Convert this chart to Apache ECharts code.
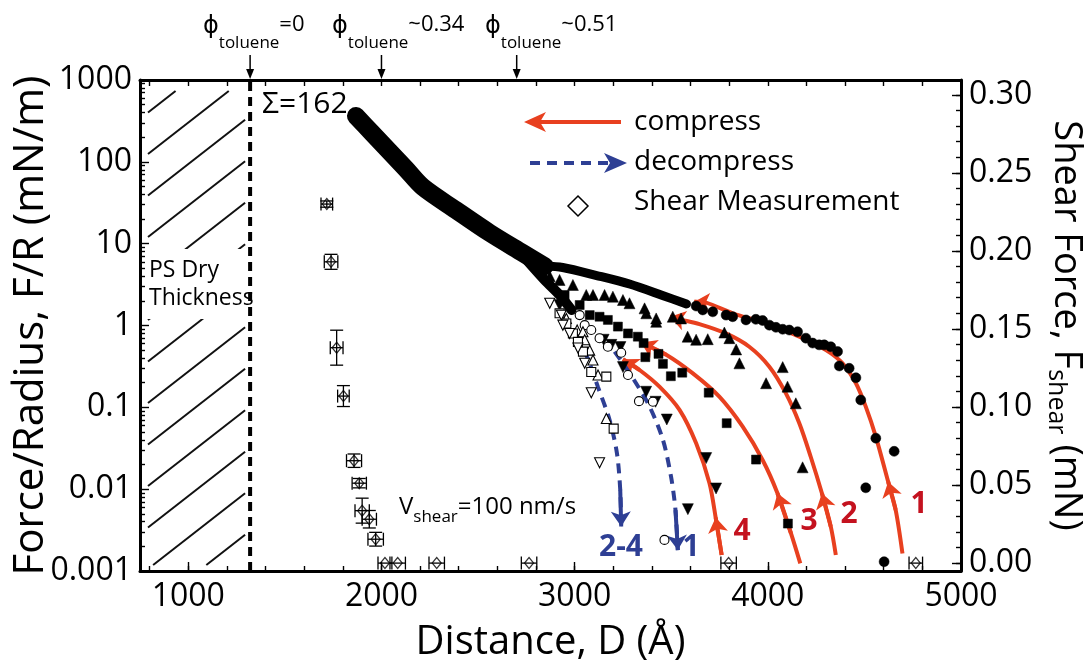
<!DOCTYPE html>
<html>
<head>
<meta charset="utf-8">
<title>Force and shear force vs distance</title>
<script src="https://cdn.jsdelivr.net/npm/echarts@6/dist/echarts.min.js"></script>
<style>
html,body{margin:0;padding:0;background:#fff;}
#chart{width:1089px;height:664px;}
</style>
</head>
<body>
<div id="chart"></div>
<script>
// ---------------- axes: ranges, ticks, tick labels ----------------
const xMin = 750, xMax = 5000;
const xTickValues = [800,1000,1200,1400,1600,1800,2000,2200,2400,2600,2800,3000,3200,3400,3600,3800,4000,4200,4400,4600,4800,5000];
const xLabelValues = [1000,2000,3000,4000,5000];
const xTickLabels = ['1000','2000','3000','4000','5000'];
const yMin = 0.001, yMax = 1000;
const yTickExponents = [-3,-2,-1,0,1,2,3];
const yTickLabels = ['0.001','0.01','0.1','1','10','100','1000'];
const shearMin = -0.00506, shearMax = 0.30948;
const shearTickValues = [0,0.01,0.02,0.03,0.04,0.05,0.06,0.07,0.08,0.09,0.10,0.11,0.12,0.13,0.14,0.15,0.16,0.17,0.18,0.19,0.20,0.21,0.22,0.23,0.24,0.25,0.26,0.27,0.28,0.29,0.30];
const shearLabelValues = [0,0.05,0.10,0.15,0.20,0.25,0.30];
const shearTickLabels = ['0.00','0.05','0.10','0.15','0.20','0.25','0.30'];

// ---------------- annotations anchored to data ----------------
const dryThickness = 1320;
const phiMarks = [1320, 2000, 2700];
const phiValues = ['=0', '~0.34', '~0.51'];

// ---------------- force data (D in Å, F/R in mN/m) ----------------
// dense overlapping region of all compression runs
const blobBand = [[1868,363],[1951,225],[2044,132],[2127,81.7],[2214,49.2],[2385,25.8],[2561,13.5],[2731,7.7],[2845,5.3]];
// lower edge of the dense fan where runs 2-4 and the decompressions overlap
const fanBand = [[2731,7.2],[2845,3.6],[2922,2.36],[2984,1.55]];
// dense part of compression run 1 (filled circles)
const run1Band = [[2845,5.33],[2938,5.11],[3114,4.08],[3284,3.21],[3455,2.33],[3579,1.83]];
const run1Circles = [[3629,1.73],[3663,1.55],[3715,1.47],[3784,1.34],[3818,1.28],[3887,1.17],[3938,1.19],[3973,1.15],[4008,1.01],[4042,0.95],[4077,0.90],[4111,0.88],[4154,0.84],[4197,0.70],[4232,0.61],[4266,0.58],[4292,0.58],[4326,0.55],[4361,0.48],[4370,0.32],[4421,0.30],[4456,0.23],[4481,0.123],[4559,0.042],[4654,0.029],[4507,0.0104],[4602,0.0013]];
const run2Triangles = [[2871,4.0],[2922,3.6],[2991,3.13],[3060,2.36],[3095,2.36],[3155,2.36],[3198,2.25],[3250,2.05],[3284,1.87],[3362,1.62],[3371,1.41],[3422,1.22],[3422,1.11],[3508,1.28],[3551,1.22],[3585,0.73],[3629,0.67],[3689,0.68],[3775,0.82],[3801,0.70],[3836,0.51],[3853,0.345],[3991,0.197],[4077,0.31],[4102,0.179],[4145,0.112],[4180,0.0185]];
const run3Squares = [[2948,2.36],[3026,1.78],[3078,1.34],[3129,1.28],[3172,1.17],[3224,0.97],[3276,0.80],[3327,0.73],[3357,0.61],[3366,0.41],[3434,0.45],[3457,0.34],[3498,0.24],[3557,0.265],[3694,0.151],[3787,0.064],[3939,0.023],[4104,0.0038]];
const run4TrianglesDown = [[2922,1.78],[3150,0.67],[3190,0.58],[3237,0.545],[3250,0.31],[3370,0.155],[3419,0.117],[3477,0.071],[3586,0.0057],[3681,0.024],[3732,0.0102]];
const dec1Circles = [[3026,1.34],[3052,1.01],[3086,0.88],[3129,0.70],[3172,0.55],[3241,0.465],[3276,0.248],[3333,0.119],[3405,0.117],[3465,0.0024]];
const dec2Triangles = [[2957,1.22],[3013,0.88],[3043,0.84],[3052,0.67],[3078,0.50],[3095,0.379],[3121,0.248],[3164,0.073]];
const dec3Squares = [[2922,1.41],[2957,1.06],[2991,0.80],[3017,0.63],[3043,0.48],[3086,0.27],[3164,0.237],[3202,0.055]];
const dec4TrianglesDown = [[2871,1.87],[2931,1.34],[2939,1.01],[2974,0.80],[3017,0.53],[3052,0.345],[3086,0.151],[3129,0.021]];

// guide curves (bottom -> top for compress, top -> bottom for decompress)
const compress1 = [[4697,0.00164],[4662,0.00556],[4623,0.0123],[4559,0.0438],[4507,0.102],[4456,0.197],[4387,0.345],[4301,0.50],[4163,0.73],[3990,1.06],[3818,1.41],[3680,1.90],[3620,1.95]];
const compress2 = [[4352,0.00157],[4326,0.00348],[4280,0.0089],[4222,0.0249],[4163,0.0638],[4093,0.149],[4008,0.314],[3904,0.55],[3783,0.80],[3646,1.04],[3543,1.19],[3494,1.28]];
const compress3 = [[4168,0.00124],[4120,0.00288],[4050,0.0089],[3973,0.0227],[3870,0.058],[3749,0.135],[3612,0.26],[3474,0.44],[3344,0.62]];
const compress4 = [[3761,0.00157],[3730,0.0045],[3698,0.0118],[3629,0.0363],[3543,0.093],[3439,0.179],[3336,0.286],[3250,0.386]];
const compressMidArrow = [2, 2, 2, 1];
const decompress1 = [[3207,0.48],[3302,0.226],[3388,0.102],[3457,0.040],[3499,0.0142],[3522,0.00556],[3534,0.0018]];
const decompress24 = [[3008,0.77],[3064,0.416],[3120,0.179],[3181,0.070],[3219,0.0274],[3236,0.0098],[3241,0.0035]];

// ---------------- shear data: [D (Å), F_shear (mN), D error, F error] ----------------
const shearData = [[1717,0.230,30,0.002],[1739,0.193,35,0.0048],[1768,0.138,33,0.0112],[1803,0.107,30,0.0067],[1858,0.0656,39,0.0043],[1885,0.0512,37,0.003],[1900,0.0336,37,0.008],[1937,0.0281,37,0.0056],[1970,0.0153,40,0.0044],[2018,0,36,0],[2084,0,40,0],[2286,0,40,0],[2764,0,40,0],[3797,0,40,0],[4766,0,35,0]];

// ---------------- styling ----------------
const FONT = "'Open Sans', 'DejaVu Sans', sans-serif";
const RED = '#e8401f', RED_TXT = '#c4121f', BLUE = '#2e3f94';
const INK = '#111';

const yMinorExponents = [];
for (let e = -3; e < 3; e++) for (let m = 2; m <= 9; m++) yMinorExponents.push(e + Math.log10(m));

const chart = echarts.init(document.getElementById('chart'), null, {renderer: 'canvas'});

function hatchRender(params, api) {
  const p0 = api.coord([api.value(0), api.value(3)]);
  const p1 = api.coord([api.value(2), api.value(1)]);
  const left = p0[0] + 8, right = p1[0] - 5, top = p0[1] + 11, bottom = p1[1] - 6;
  const slope = 0.78, gap = 41.5, y0 = p0[1] + 32.5;
  const children = [];
  for (let k = -2; k < 16; k++) {
    const yL = y0 + k * gap;
    const xa = Math.max(left, left + (yL - bottom) / slope);
    const xb = Math.min(right, left + (yL - top) / slope);
    if (xb - xa > 4) {
      children.push({type: 'line', shape: {x1: xa, y1: yL - slope * (xa - left), x2: xb, y2: yL - slope * (xb - left)},
        style: {stroke: INK, lineWidth: 2}});
    }
  }
  return {type: 'group', children};
}

function errRender(params, api) {
  const x = api.value(0), y = api.value(1), ex = api.value(2), ey = api.value(3);
  const c = api.coord([x, y]);
  const l = api.coord([x - ex, y])[0], r = api.coord([x + ex, y])[0];
  const t = api.coord([x, y + ey])[1], b = api.coord([x, y - ey])[1];
  const cap = 6.5;
  const st = {stroke: '#000', lineWidth: 1.3};
  const ch = [
    {type: 'line', shape: {x1: l, y1: c[1], x2: r, y2: c[1]}, style: st},
    {type: 'line', shape: {x1: l, y1: c[1] - cap, x2: l, y2: c[1] + cap}, style: st},
    {type: 'line', shape: {x1: r, y1: c[1] - cap, x2: r, y2: c[1] + cap}, style: st}
  ];
  if (ey > 0) {
    ch.push({type: 'line', shape: {x1: c[0], y1: t, x2: c[0], y2: b}, style: st});
    ch.push({type: 'line', shape: {x1: c[0] - cap, y1: t, x2: c[0] + cap, y2: t}, style: st});
    ch.push({type: 'line', shape: {x1: c[0] - cap, y1: b, x2: c[0] + cap, y2: b}, style: st});
  }
  return {type: 'group', children: ch};
}

function guide(data, color, dashed, z) {
  return {type: 'line', xAxisIndex: 0, yAxisIndex: 0, data, smooth: 0.3, symbol: 'none', z,
    lineStyle: {color, width: 4, type: dashed ? [10, 7] : 'solid', cap: 'butt'}, silent: true};
}
function arrows(segments, color, z) {
  return {type: 'lines', coordinateSystem: 'cartesian2d', xAxisIndex: 0, yAxisIndex: 0, z,
    symbol: ['none', 'arrow'], symbolSize: 15, lineStyle: {color, width: 4, opacity: 1, curveness: 0},
    data: segments.map(s => ({coords: s}))};
}
function markers(data, symbol, filled, size, rotate) {
  return {type: 'scatter', xAxisIndex: 0, yAxisIndex: 0, data, symbol, symbolSize: size, symbolRotate: rotate || 0, z: 5,
    itemStyle: filled ? {color: '#000', borderColor: '#000', borderWidth: 0.5, opacity: 1}
                      : {color: '#fff', borderColor: '#000', borderWidth: 1.1, opacity: 1}};
}
function band(data, width) {
  return {type: 'line', xAxisIndex: 0, yAxisIndex: 0, z: 3, symbol: 'none', smooth: 0.3, silent: true,
    data, lineStyle: {color: '#000', width, cap: 'round', join: 'round'}};
}

const compressAll = [compress1, compress2, compress3, compress4];
const redArrowSegs = [];
compressAll.forEach((c, i) => {
  redArrowSegs.push([c[c.length - 2], c[c.length - 1]]);
  const m = compressMidArrow[i];
  redArrowSegs.push([c[m - 1], c[m]]);
});
const blueArrowSegs = [decompress1, decompress24].map(c => [c[c.length - 2], c[c.length - 1]]);

const tickStyle = {color: '#000', width: 1.4};
const option = {
  animation: false,
  backgroundColor: '#fff',
  grid: {left: 140, right: 128, top: 80, bottom: 93, containLabel: false, outerBoundsMode: 'none'},
  xAxis: [
    {type: 'value', position: 'bottom', min: xMin, max: xMax,
     axisLine: {show: true, onZero: false, lineStyle: {color: '#000', width: 3}},
     axisTick: {show: true, inside: true, length: 5, customValues: xTickValues, lineStyle: tickStyle},
     axisLabel: {show: true, customValues: xLabelValues, margin: 10, color: '#000', fontFamily: FONT, fontSize: 32,
       formatter: v => { const i = xLabelValues.indexOf(Math.round(v)); return i >= 0 ? xTickLabels[i] : ''; }},
     splitLine: {show: false},
     name: 'Distance, D (Å)', nameLocation: 'middle', nameGap: 52,
     nameTextStyle: {color: '#000', fontFamily: FONT, fontSize: 40}},
    {type: 'value', position: 'top', min: xMin, max: xMax,
     axisLine: {show: true, onZero: false, lineStyle: {color: '#000', width: 3}},
     axisTick: {show: true, inside: true, length: 6, customValues: xTickValues, lineStyle: tickStyle},
     axisLabel: {show: false}, splitLine: {show: false}},
    {type: 'value', position: 'bottom', min: xMin, max: xMax,
     axisLine: {show: false, onZero: false},
     axisTick: {show: true, inside: true, length: 9, customValues: xLabelValues, lineStyle: tickStyle},
     axisLabel: {show: false}, splitLine: {show: false}}
  ],
  yAxis: [
    {type: 'log', logBase: 10, position: 'left', min: yMin, max: yMax,
     axisLine: {show: true, onZero: false, lineStyle: {color: '#000', width: 3}},
     axisTick: {show: false}, axisLabel: {show: false}, splitLine: {show: false}, minorTick: {show: false},
     name: 'Force/Radius, F/R (mN/m)', nameLocation: 'middle', nameGap: 88,
     nameTextStyle: {color: '#000', fontFamily: FONT, fontSize: 42}},
    {type: 'value', position: 'right', min: shearMin, max: shearMax,
     axisLine: {show: true, onZero: false, lineStyle: {color: '#000', width: 3}},
     axisTick: {show: true, inside: true, length: 5, customValues: shearTickValues, lineStyle: tickStyle},
     axisLabel: {show: true, customValues: shearLabelValues, margin: 8, color: '#000', fontFamily: FONT, fontSize: 32,
       formatter: v => { const i = shearLabelValues.findIndex(s => Math.abs(s - v) < 1e-9); return i >= 0 ? shearTickLabels[i] : ''; }},
     splitLine: {show: false},
     name: '{m|Shear Force, F}{s|shear}{m| (mN)}', nameLocation: 'middle', nameGap: 80, nameRotate: -90,
     nameTextStyle: {color: '#000', fontFamily: FONT, fontSize: 38,
       rich: {m: {fontFamily: FONT, fontSize: 38, lineHeight: 44, verticalAlign: 'top', color: '#000'},
              s: {fontFamily: FONT, fontSize: 25, lineHeight: 25, padding: [17, 0, 0, 0], verticalAlign: 'top', color: '#000'}}}},
    {type: 'value', position: 'left', min: -3, max: 3,
     axisLine: {show: false, onZero: false},
     axisTick: {show: true, inside: true, length: 9, customValues: yTickExponents, lineStyle: tickStyle},
     axisLabel: {show: true, customValues: yTickExponents, margin: 8, color: '#000', fontFamily: FONT, fontSize: 32,
       formatter: v => { const i = yTickExponents.indexOf(Math.round(v)); return i >= 0 ? yTickLabels[i] : ''; }},
     splitLine: {show: false}},
    {type: 'value', position: 'left', min: -3, max: 3,
     axisLine: {show: false, onZero: false},
     axisTick: {show: true, inside: true, length: 5, customValues: yMinorExponents, lineStyle: tickStyle},
     axisLabel: {show: false}, splitLine: {show: false}},
    {type: 'value', position: 'right', min: shearMin, max: shearMax,
     axisLine: {show: false, onZero: false},
     axisTick: {show: true, inside: true, length: 9, customValues: shearLabelValues, lineStyle: tickStyle},
     axisLabel: {show: false}, splitLine: {show: false}}
  ],
  series: [
    {type: 'custom', name: 'PS dry hatch', xAxisIndex: 0, yAxisIndex: 0, z: 1, silent: true,
     data: [[xMin, yMin, dryThickness, yMax]], encode: {x: [0, 2], y: [1, 3]}, renderItem: hatchRender, clip: false},
    {type: 'line', name: 'dry thickness', xAxisIndex: 0, yAxisIndex: 0, z: 3, symbol: 'none', silent: true,
     data: [[dryThickness, yMin], [dryThickness, yMax]], lineStyle: {color: '#000', width: 4, type: [9, 6]}},
    band(blobBand, 18),
    band(fanBand, 10),
    band(run1Band, 9),
    guide(compress1, RED, false, 4), guide(compress2, RED, false, 4), guide(compress3, RED, false, 4), guide(compress4, RED, false, 4),
    arrows(redArrowSegs, RED, 4),
    guide(decompress1, BLUE, true, 4), guide(decompress24, BLUE, true, 4),
    arrows(blueArrowSegs, BLUE, 4),
    markers(run1Circles, 'circle', true, 10),
    markers(run2Triangles, 'triangle', true, 11),
    markers(run3Squares, 'rect', true, 9),
    markers(run4TrianglesDown, 'triangle', true, 11, 180),
    markers(dec1Circles, 'circle', false, 9),
    markers(dec2Triangles, 'triangle', false, 10),
    markers(dec3Squares, 'rect', false, 9),
    markers(dec4TrianglesDown, 'triangle', false, 10, 180),
    {type: 'custom', name: 'shear error', xAxisIndex: 0, yAxisIndex: 1, z: 6, silent: true,
     data: shearData, encode: {x: 0, y: 1}, renderItem: errRender, clip: false},
    {type: 'scatter', name: 'Shear Measurement', xAxisIndex: 0, yAxisIndex: 1, z: 7,
     data: shearData.map(d => [d[0], d[1]]), symbol: 'diamond', symbolSize: [9, 11],
     itemStyle: {color: 'rgba(255,255,255,0)', borderColor: '#000', borderWidth: 1.3}}
  ]
};
chart.setOption(option);

// ---------------- annotations / legend (graphic) ----------------
const g = [];
function txt(x, y, text, size) {
  return {type: 'text', x, y, z: 8, style: {text, fill: '#000', fontFamily: FONT, fontSize: size,
    textVerticalAlign: 'middle', textAlign: 'left'}};
}
// PS dry thickness label
g.push({type: 'text', x: 146, y: 249, z: 2, style: {text: 'PS Dry\nThickness', fill: '#000', fontFamily: FONT, fontSize: 23,
  lineHeight: 28, backgroundColor: '#fff', padding: [7, 3, 7, 3]}});
g.push(txt(262, 104, 'Σ=162', 30));
// V_shear
g.push({type: 'text', x: 399, y: 495, z: 8, style: {text: '{m|V}{s|shear}{m|=100 nm/s}', fill: '#000', fontFamily: FONT,
  rich: {m: {fontFamily: FONT, fontSize: 24, lineHeight: 28, verticalAlign: 'top', fill: '#000'},
         s: {fontFamily: FONT, fontSize: 17, lineHeight: 17, padding: [14, 0, 0, 0], verticalAlign: 'top', fill: '#000'}}}});
// legend
g.push({type: 'line', z: 8, shape: {x1: 621, y1: 122, x2: 538, y2: 122}, style: {stroke: RED, lineWidth: 4}});
g.push({type: 'polygon', z: 8, shape: {points: [[524, 122], [546, 112], [540, 122], [546, 132]]}, style: {fill: RED}});
g.push(txt(634, 122, 'compress', 28));
g.push({type: 'line', z: 8, shape: {x1: 530, y1: 163, x2: 608, y2: 163}, style: {stroke: BLUE, lineWidth: 4, lineDash: [10, 7]}});
g.push({type: 'polygon', z: 8, shape: {points: [[627, 163], [604, 153], [610, 163], [604, 173]]}, style: {fill: BLUE}});
g.push(txt(634, 162, 'decompress', 28));
g.push({type: 'polygon', z: 8, shape: {points: [[578, 196], [588, 206], [578, 216], [568, 206]]}, style: {fill: '#fff', stroke: '#000', lineWidth: 1.5}});
g.push(txt(634, 202, 'Shear Measurement', 28));
// phi annotations
const phiTextX = [203, 332, 485];
phiMarks.forEach((d, i) => {
  const ax = chart.convertToPixel({xAxisIndex: 0}, d);
  g.push({type: 'line', z: 8, shape: {x1: ax, y1: 55, x2: ax, y2: 71}, style: {stroke: '#000', lineWidth: 1.5}});
  g.push({type: 'polygon', z: 8, shape: {points: [[ax, 79], [ax - 4, 69], [ax + 4, 69]]}, style: {fill: '#000'}});
  g.push({type: 'text', x: phiTextX[i], y: 14, z: 8, style: {text: '{p|ϕ}{s|toluene}{m|' + phiValues[i] + '}', fill: '#000',
    rich: {p: {fontFamily: FONT, fontSize: 24, lineHeight: 26, verticalAlign: 'top', fill: '#000'},
           m: {fontFamily: FONT, fontSize: 22, lineHeight: 26, verticalAlign: 'top', fill: '#000'},
           s: {fontFamily: FONT, fontSize: 17, lineHeight: 17, padding: [21, 0, 0, 0], verticalAlign: 'top', fill: '#000'}}}});
});
// curve numbers
const redNums = [['1', 919, 504], ['2', 849, 514], ['3', 809, 521], ['4', 742, 531]];
redNums.forEach(n => g.push({type: 'text', x: n[1], y: n[2], z: 8, style: {text: n[0], fill: RED_TXT, fontFamily: FONT,
  fontSize: 30, fontWeight: 'bold', textAlign: 'center', textVerticalAlign: 'middle'}}));
const blueNums = [['2-4', 621, 547], ['1', 691, 547]];
blueNums.forEach(n => g.push({type: 'text', x: n[1], y: n[2], z: 8, style: {text: n[0], fill: BLUE, fontFamily: FONT,
  fontSize: 30, fontWeight: 'bold', textAlign: 'center', textVerticalAlign: 'middle'}}));

chart.setOption({graphic: {elements: g}});
</script>
</body>
</html>
